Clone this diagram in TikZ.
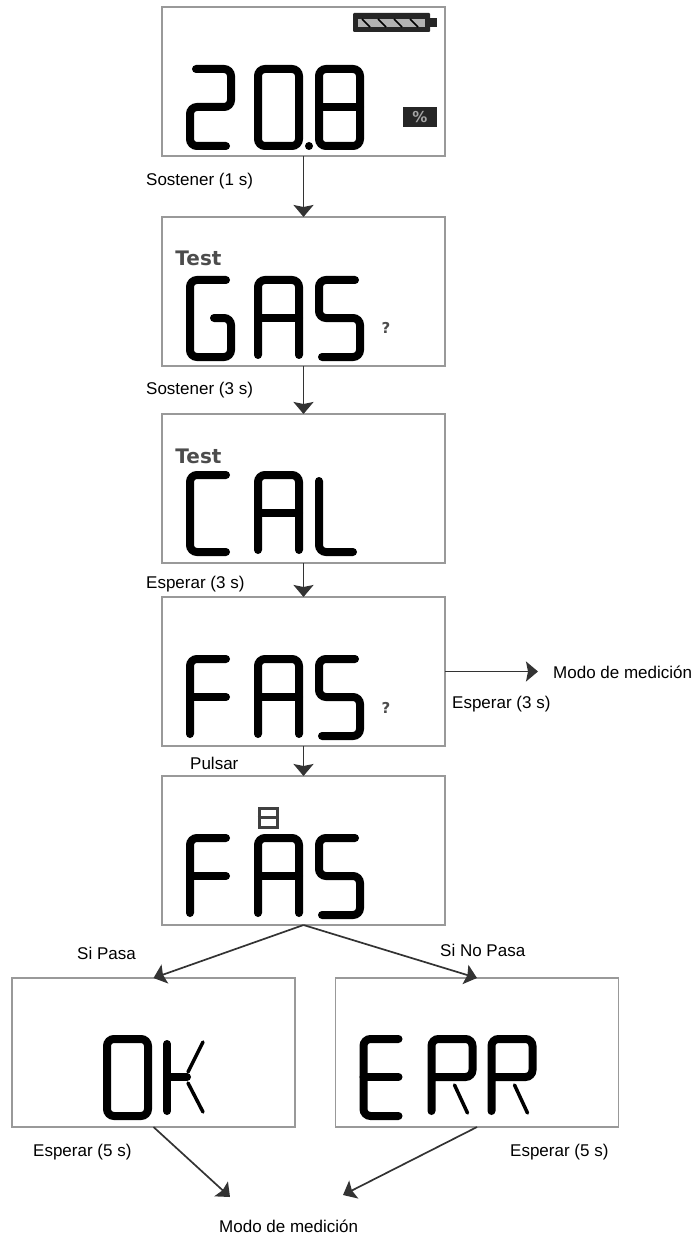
\documentclass[tikz,border=0pt]{standalone}
\usepackage{fontspec}
\setmainfont{Liberation Sans}
\newfontfamily\lcdfont{DejaVu Sans}
\usetikzlibrary{arrows.meta, positioning, calc}

\begin{document}
\begin{tikzpicture}[
  x=1pt, y=-1pt,
  screen/.style={draw=black!40, line width=1.5pt, minimum width=283pt, minimum height=149pt, inner sep=0pt, outer sep=0pt},
  note/.style={font=\fontsize{17}{19}\selectfont, inner sep=0pt, anchor=west},
  flag/.style={font=\lcdfont\fontsize{20}{22}\selectfont\bfseries, text=black!70, inner sep=0pt},
  ask/.style={font=\lcdfont\fontsize{15}{15}\selectfont\bfseries, text=black!70, inner sep=0pt},
  arrow/.style={-{Stealth[length=12pt, width=20pt, inset=2pt]}, draw=black!80, line width=1.7pt},
  lcd/.style={draw=black, line width=8pt, line cap=round, rounded corners=7pt},
  thinlcd/.style={draw=black, line width=3.5pt, line cap=round},
  pics/lcdtwo/.style={code={\draw[lcd] (6,0) -- (41,0) -- (41,38) -- (0,38) -- (0,77) -- (36,77);}},
  pics/lcdzero/.style={code={\draw[lcd] (0,0) -- (41,0) -- (41,77) -- (0,77) -- cycle;}},
  pics/lcdeight/.style={code={\draw[lcd] (0,0) -- (41,0) -- (41,77) -- (0,77) -- cycle; \draw[lcd] (0,38) -- (41,38);}},
  pics/lcdg/.style={code={\draw[lcd] (36,0) -- (0,0) -- (0,77) -- (41,77) -- (41,38) -- (24,38);}},
  pics/lcda/.style={code={\draw[lcd] (0,75) -- (0,0) -- (41,0) -- (41,75); \draw[lcd] (0,38) -- (41,38);}},
  pics/lcds/.style={code={\draw[lcd] (36,0) -- (0,0) -- (0,38) -- (41,38) -- (41,77) -- (3,77);}},
  pics/lcdc/.style={code={\draw[lcd] (36,0) -- (0,0) -- (0,77) -- (36,77);}},
  pics/lcdl/.style={code={\draw[lcd] (0,6) -- (0,77) -- (34,77);}},
  pics/lcdf/.style={code={\draw[lcd] (0,75) -- (0,0) -- (36,0); \draw[lcd] (0,38) -- (36,38);}},
  pics/lcde/.style={code={\draw[lcd] (35,0) -- (0,0) -- (0,77) -- (35,77); \draw[lcd] (0,38) -- (35,38);}},
  pics/lcdk/.style={code={\draw[lcd] (0,5) -- (0,72); \draw[lcd] (0,38) -- (20,38); \draw[thinlcd] (36,3) -- (21,33); \draw[thinlcd] (21,44) -- (36,73);}},
  pics/lcdr/.style={code={\draw[lcd] (0,72) -- (0,0) -- (41,0) -- (41,38) -- (0,38); \draw[thinlcd] (23,46) -- (36,74);}}
]
\useasboundingbox (0,0) rectangle (697,1238);

% screens
\node[screen] (read) at (303.5,81.5) {};
\node[screen, below=61pt of read] (gas) {};
\node[screen, below=48pt of gas] (cal) {};
\node[screen, below=34pt of cal] (fas) {};
\node[screen, below=30pt of fas] (fasb) {};
\node[screen] (ok) at (153.5,1052.5) {};
\node[screen] (err) at (477,1052.5) {};

% display characters
\foreach \scr/\col/\row/\glyph in {read/28/62/lcdtwo, read/96/62/lcdzero, read/157/62/lcdeight,
    gas/28/63/lcdg, gas/96/63/lcda, gas/157/63/lcds,
    cal/28/61/lcdc, cal/96/61/lcda, cal/157/61/lcdl,
    fas/28/62/lcdf, fas/96/62/lcda, fas/157/62/lcds,
    fasb/28/62/lcdf, fasb/96/62/lcda, fasb/157/62/lcds,
    ok/95/61/lcdzero, ok/155/61/lcdk,
    err/28/61/lcde, err/96/61/lcdr, err/156/61/lcdr}
  \pic at ($(\scr.north west)+(\col,\row)$) {\glyph};

% display details
\fill[black] (309,146) circle (4pt);
\fill[black!85, rounded corners=1pt] (353,13) rectangle (430,32);
\fill[black!85] (430,18) rectangle (437,27);
\fill[black!30] (358,19) rectangle (425,27);
\foreach \xa in {362,378,394,410}
  \draw[black, line width=1.5pt] (\xa,19) -- (\xa+8,27);
\node[fill=black!85, text=black!35, font=\lcdfont\fontsize{15}{15}\selectfont\bfseries, minimum width=34pt, minimum height=20pt, inner sep=0pt] (percent) at (420,117) {\%};
\node[flag] (gastest) at (198.5,258) {Test};
\node[flag] (caltest) at (198.5,456) {Test};
\node[ask] (gasask) at (386,328) {?};
\node[ask] (fasask) at (386,708) {?};
\node[draw=black!75, line width=3pt, minimum width=18pt, minimum height=19pt, inner sep=0pt] (mark) at (268,817.5) {};
\draw[black!75, line width=3pt] (mark.west) -- (mark.east);

% labels
\node[note] (hold1) at (146,181) {Sostener (1 s)};
\node[note] (hold3) at (146,390) {Sostener (3 s)};
\node[note] (wait3) at (146,584) {Esperar (3 s)};
\node[note] (waitfas) at (452,704) {Esperar (3 s)};
\node[note] (press) at (190,763) {Pulsar};
\node[note] (pass) at (77,953) {Si Pasa};
\node[note] (fail) at (440,950) {Si No Pasa};
\node[note] (waitok) at (33,1152) {Esperar (5 s)};
\node[note] (waiterr) at (510,1152) {Esperar (5 s)};
\coordinate[right=93pt of fas.east] (fasend);
\node[note, right=15pt of fasend, yshift=-1pt] (moderight) {Modo de medición};
\node[note] (modebottom) at (219,1226) {Modo de medición};
\coordinate (okend) at (230,1197);
\coordinate (errend) at (343,1195);

\draw[arrow] (read) -- (gas);
\draw[arrow] (gas) -- (cal);
\draw[arrow] (cal) -- (fas);
\draw[arrow] (fas) -- (fasb);
\draw[arrow] (fas.east) -- (fasend);
\draw[arrow] (fasb.south) -- (ok.north);
\draw[arrow] (fasb.south) -- (err.north);
\draw[arrow] (ok.south) -- (okend);
\draw[arrow] (err.south) -- (errend);
\end{tikzpicture}
\end{document}
